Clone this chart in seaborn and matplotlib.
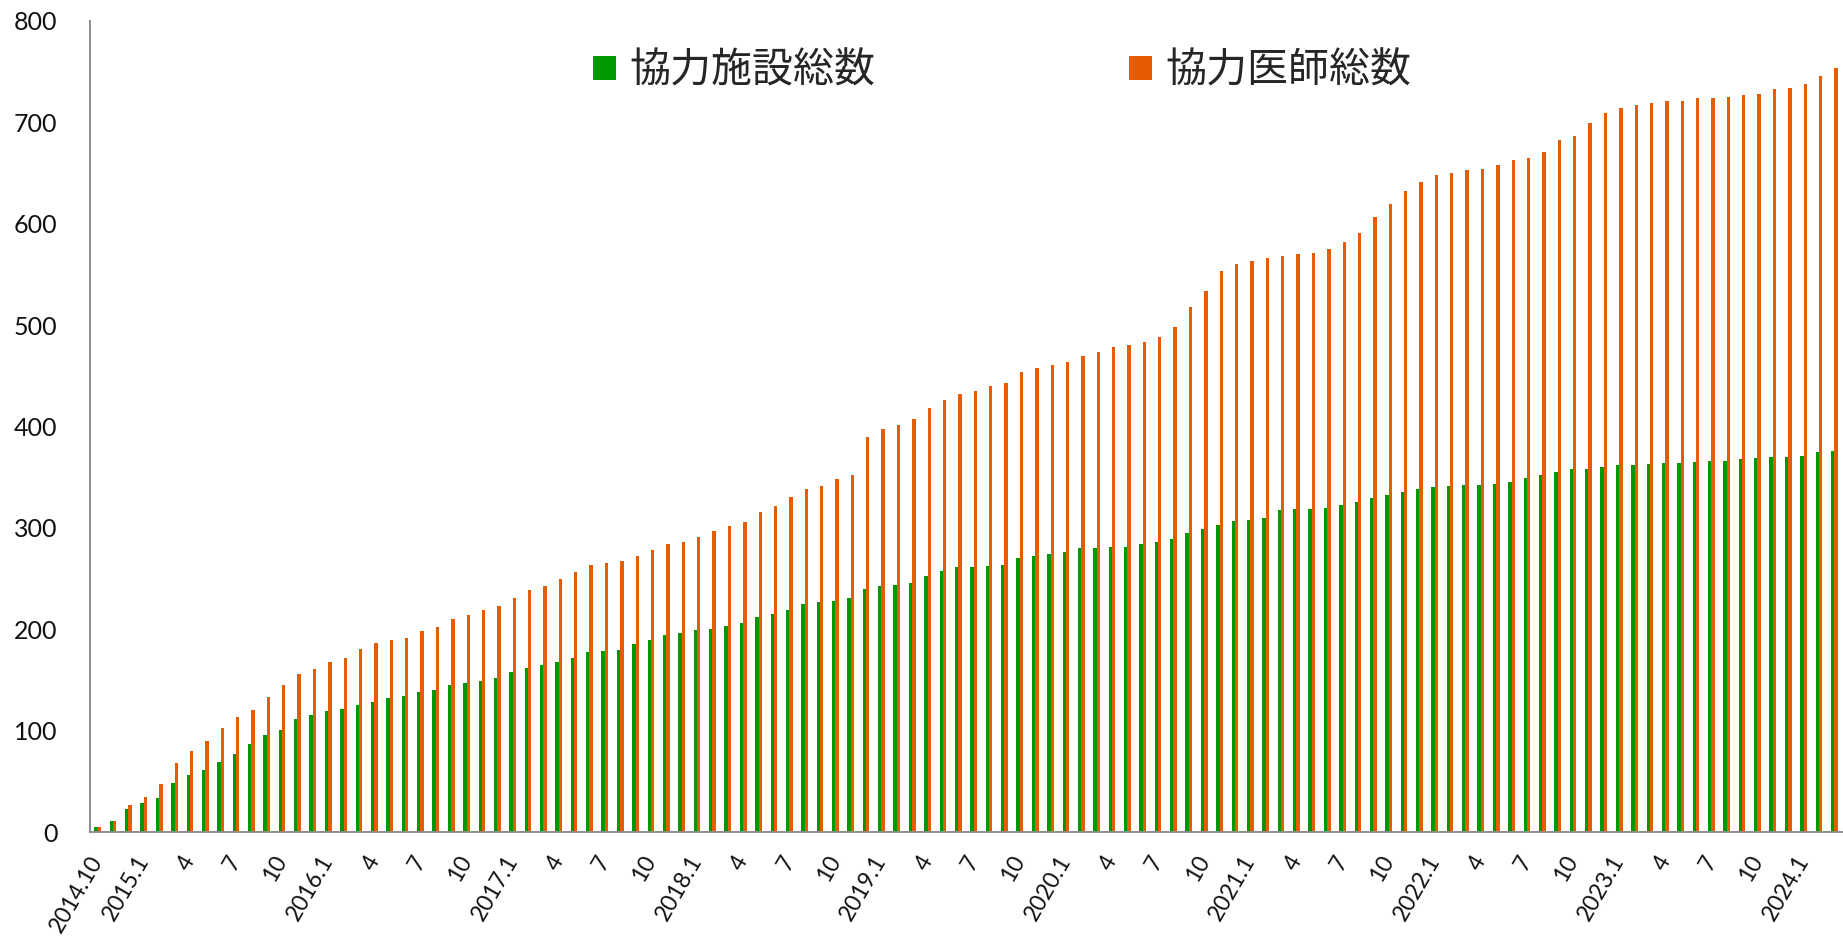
import numpy as np
import pandas as pd
import matplotlib
matplotlib.use("Agg")
import matplotlib.pyplot as plt
from matplotlib.patches import Patch
import seaborn as sns

# months from 2014.10 to 2024.3
periods = pd.period_range("2014-10", "2024-03", freq="M")
months = [f"{p.year}.{p.month}" for p in periods]

# 協力施設総数 (facilities)
facilities = [5, 11, 23, 29, 34, 48, 56, 61, 69, 77, 87, 96, 101, 111, 115,
              119, 121, 125, 128, 132, 134, 138, 140, 145, 147, 149, 152, 158,
              162, 165, 168, 172, 178, 179, 180, 185, 189, 194, 196, 199, 200,
              203, 206, 212, 215, 219, 225, 227, 228, 231, 240, 243, 244, 246,
              253, 257, 261, 261, 262, 263, 270, 272, 274, 276, 280, 280, 281,
              281, 284, 286, 289, 295, 299, 303, 307, 308, 310, 318, 319, 319,
              320, 323, 326, 329, 332, 335, 338, 340, 341, 342, 342, 343, 345,
              349, 352, 355, 358, 358, 360, 362, 362, 363, 364, 364, 365, 366,
              366, 368, 369, 370, 370, 371, 375, 376]

# 協力医師総数 (doctors)
doctors = [5, 11, 27, 35, 47, 68, 80, 90, 103, 113, 120, 133, 145, 156, 161,
           168, 172, 181, 186, 189, 191, 198, 202, 210, 214, 219, 223, 231,
           239, 243, 250, 256, 263, 265, 267, 272, 278, 284, 286, 291, 297,
           302, 306, 316, 322, 330, 338, 341, 348, 352, 390, 398, 401, 407,
           418, 426, 432, 435, 440, 443, 454, 458, 461, 464, 470, 473, 478,
           480, 483, 488, 498, 518, 534, 553, 560, 563, 566, 568, 570, 571,
           575, 582, 591, 607, 619, 632, 641, 648, 650, 653, 654, 658, 663,
           665, 671, 683, 687, 699, 709, 714, 717, 719, 721, 721, 724, 724,
           725, 727, 728, 733, 734, 738, 746, 754]

series_names = ["協力施設総数", "協力医師総数"]
colors = ["#009900", "#E65C00"]

n = len(months)
df = pd.DataFrame({
    "month": months * 2,
    "value": facilities + doctors,
    "series": [series_names[0]] * n + [series_names[1]] * n,
})

sns.set_style("white")
plt.rcParams['font.family'] = ['Lato', 'Noto Sans CJK JP', 'DejaVu Sans']

W, H = 1843, 936
fig = plt.figure(figsize=(W / 100, H / 100), dpi=100)
ax = fig.add_axes([90 / W, 104 / H, 1752 / W, 811 / H])

sns.barplot(data=df, x="month", y="value", hue="series", order=months,
            hue_order=series_names, palette=colors, width=0.44, gap=0,
            saturation=1, errorbar=None, linewidth=0, legend=False, ax=ax)

ax.set_xlim(-0.5, n - 0.5)
ax.set_ylim(0, 800)
ax.set_xlabel("")
ax.set_ylabel("")

# spines
for s in ["top", "right"]:
    ax.spines[s].set_visible(False)
for s in ["left", "bottom"]:
    ax.spines[s].set_color("#8c8c8c")
    ax.spines[s].set_linewidth(1.4)

# y axis
ax.set_yticks(range(0, 801, 100))
ax.tick_params(axis="y", direction="out", length=6.5, width=1.2,
               color="#8c8c8c", labelsize=18, pad=17, labelcolor="#111111")

# x axis labels every 3 months
tick_pos = []
tick_lab = []
for i, p in enumerate(periods):
    if i == 0 or p.month == 1:
        tick_pos.append(i)
        tick_lab.append(f"{p.year}.{p.month}")
    elif p.month in (4, 7, 10):
        tick_pos.append(i)
        tick_lab.append(str(p.month))
ax.set_xticks(tick_pos)
ax.set_xticklabels(tick_lab)
ax.tick_params(axis="x", which="major", length=0, labelsize=16.5, pad=18,
               labelcolor="#111111")
for lbl in ax.get_xticklabels():
    lbl.set_rotation(60)
    lbl.set_ha("right")
    lbl.set_va("center")
    lbl.set_rotation_mode("anchor")

# small marks between categories
ax.set_xticks(np.arange(0.5, n - 0.5, 1), minor=True)
ax.tick_params(axis="x", which="minor", direction="in", length=5.8,
               width=1, color="#aaaaaa")

# legend
handles = [Patch(facecolor=c, edgecolor="none") for c in colors]
ax.legend(handles, series_names, loc="center left",
          bbox_to_anchor=(593 / W, 1 - 71 / H), bbox_transform=fig.transFigure,
          ncol=2, frameon=False, handlelength=0.56, handleheight=0.56,
          handletextpad=0.32, columnspacing=6.2, borderpad=0, borderaxespad=0,
          prop={"family": ["Noto Sans CJK JP"], "size": 29.5})

fig.savefig("out.png", dpi=100)
